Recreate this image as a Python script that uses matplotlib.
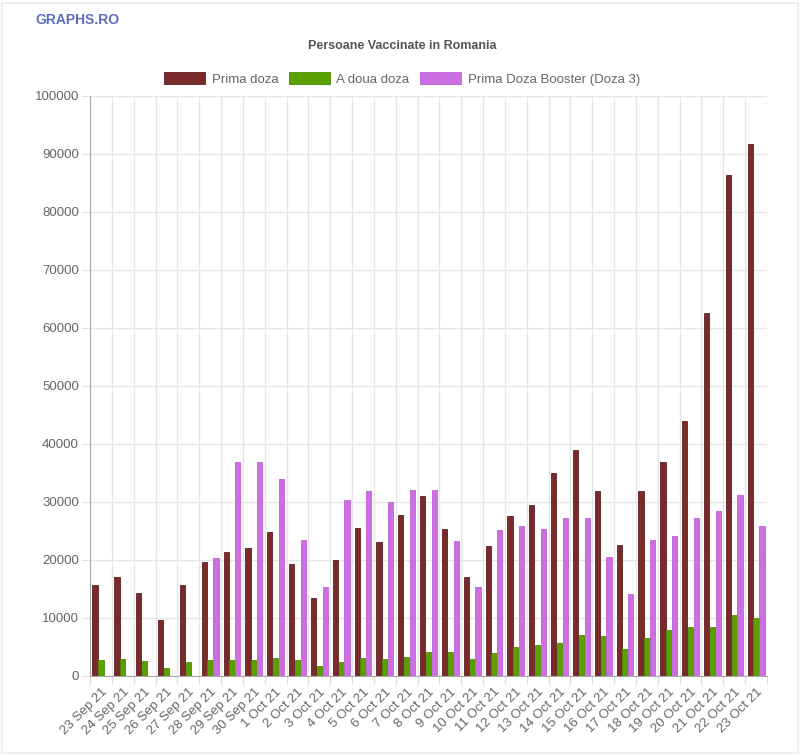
import matplotlib
matplotlib.use("Agg")
import matplotlib.pyplot as plt
import numpy as np
from matplotlib.patches import Rectangle

plt.rcParams['font.family'] = ['Liberation Sans', 'DejaVu Sans']

categories = ["23 Sep 21", "24 Sep 21", "25 Sep 21", "26 Sep 21", "27 Sep 21", "28 Sep 21",
              "29 Sep 21", "30 Sep 21", "1 Oct 21", "2 Oct 21", "3 Oct 21", "4 Oct 21",
              "5 Oct 21", "6 Oct 21", "7 Oct 21", "8 Oct 21", "9 Oct 21", "10 Oct 21",
              "11 Oct 21", "12 Oct 21", "13 Oct 21", "14 Oct 21", "15 Oct 21", "16 Oct 21",
              "17 Oct 21", "18 Oct 21", "19 Oct 21", "20 Oct 21", "21 Oct 21", "22 Oct 21",
              "23 Oct 21"]

prima_doza = [15700, 17100, 14300, 9600, 15700, 19700, 21400, 22100, 24800, 19300, 13400,
              20000, 25500, 23100, 27800, 31000, 25300, 17100, 22400, 27600, 29500, 35000,
              39000, 31900, 22600, 31900, 36900, 44000, 62600, 86400, 91700]

a_doua_doza = [2800, 2900, 2600, 1400, 2400, 2700, 2800, 2800, 3100, 2800, 1800, 2500,
               3100, 2900, 3300, 4200, 4100, 3000, 4000, 5000, 5300, 5700, 7000, 6900,
               4700, 6600, 7900, 8400, 8500, 10500, 10000]

booster = [0, 0, 0, 0, 0, 20400, 36900, 36900, 34000, 23400, 15300, 30300, 31900, 30000,
           32000, 32000, 23200, 15300, 25100, 25800, 25300, 27200, 27200, 20500, 14200,
           23400, 24100, 27200, 28400, 31200, 25800]

series_names = ["Prima doza", "A doua doza", "Prima Doza Booster (Doza 3)"]
colors = ["#7b2a2c", "#5aa100", "#cc6fe3"]
edge_colors = ["#5e1f20", "#4c8a00", "#c060d8"]

fig = plt.figure(figsize=(8, 7.55), dpi=100)
ax = fig.add_axes([90/800, 1 - 676/755, (767-90)/800, (676-96)/755])

x = np.arange(len(categories))
bw = 0.8 * 0.9 / 3
data = [prima_doza, a_doua_doza, booster]
for i, (vals, c, ec, name) in enumerate(zip(data, colors, edge_colors, series_names)):
    ax.bar(x + (i - 1) * 0.8 / 3, vals, width=bw, color=c, edgecolor=ec, linewidth=0.6,
           label=name, zorder=3)

ax.set_xlim(-0.5, len(categories) - 0.5)
ax.set_ylim(0, 100000)
ax.set_yticks(np.arange(0, 100001, 10000))
ax.set_yticklabels([str(v) for v in range(0, 100001, 10000)])

ax.set_xticks(x)
ax.set_xticks(np.arange(-0.5, len(categories), 1), minor=True)
ax.set_xticklabels(categories, rotation=45, ha="right", rotation_mode="anchor")
ax.tick_params(axis="x", which="major", length=0, pad=7, labelsize=9.5, labelcolor="#666666")
ax.tick_params(axis="x", which="minor", length=6, color="#dddddd", width=1)
ax.tick_params(axis="y", length=6, color="#dddddd", labelsize=9.5, labelcolor="#666666", pad=2)
ax.grid(True, which="minor", axis="x", color="#e6e6e6", linewidth=1, zorder=0)
ax.grid(True, which="major", axis="y", color="#e6e6e6", linewidth=1, zorder=0)
ax.grid(False, which="major", axis="x")

for s in ["top", "right"]:
    ax.spines[s].set_visible(False)
ax.spines["left"].set_color("#aaaaaa")
ax.spines["bottom"].set_color("#aaaaaa")
ax.set_axisbelow(True)

fig.text(35/800, 1 - 20/755, "GRAPHS.RO", color="#5b6cc0", fontsize=10, fontweight="bold",
         va="center", ha="left")
fig.text(402/800, 1 - 46/755, "Persoane Vaccinate in Romania", color="#555555", fontsize=9,
         fontweight="bold", va="center", ha="center")

leg = fig.legend(loc="center", bbox_to_anchor=(402/800, 1 - 79/755), ncol=3, frameon=False,
                 fontsize=9.5, handlelength=3.1, handleheight=1.0, handletextpad=0.5,
                 columnspacing=0.8, labelcolor="#666666")

fig.patches.append(Rectangle((0.002, 0.002), 0.996, 0.994, transform=fig.transFigure,
                             fill=False, edgecolor="#eeeeee", linewidth=1.5))

fig.savefig("out.png", dpi=100)
